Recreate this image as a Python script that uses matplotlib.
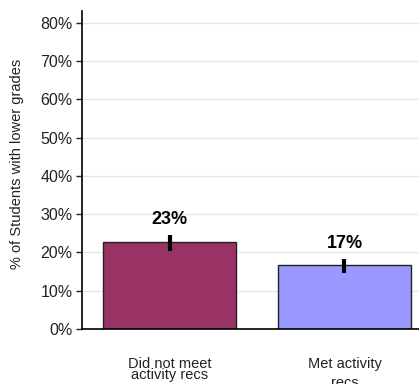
import matplotlib
matplotlib.use("Agg")
import matplotlib.pyplot as plt
import numpy as np

plt.rcParams['font.family'] = ['Liberation Sans', 'DejaVu Sans']

categories = ["Did not meet\nactivity recs", "Met activity\nrecs"]
values = [22.7, 16.7]
err_low = [20.4, 14.6]
err_high = [24.6, 18.3]
value_labels = ["23%", "17%"]
bar_colors = ["#993366", "#9999FF"]
yticks = [0, 10, 20, 30, 40, 50, 60, 70, 80]

fig = plt.figure(figsize=(4.19, 3.84), dpi=100)
ax = fig.add_axes([0.196, 0.143, 0.804, 0.828])

x = np.arange(len(categories))
ax.bar(x, values, width=0.76, color=bar_colors, edgecolor="#222222",
       linewidth=1.0, zorder=2)

yerr = [np.array(values) - np.array(err_low), np.array(err_high) - np.array(values)]
ax.errorbar(x, values, yerr=yerr, fmt="none", ecolor="black", elinewidth=3,
            capsize=0, zorder=3)

for xi, hi, lab in zip(x, err_high, value_labels):
    ax.text(xi, hi + 1.7, lab, ha="center", va="bottom", fontsize=13,
            fontweight="bold", color="black")

ax.set_ylim(0, 83)
ax.set_xlim(-0.5, 1.426)
ax.set_yticks(yticks)
ax.set_yticklabels([f"{t}%" for t in yticks], fontsize=11.5, color="#222222")
ax.yaxis.grid(True, color="#e6e6e6", linewidth=1.0, zorder=0)
ax.set_axisbelow(True)

ax.set_xticks(x)
ax.set_xticklabels(categories, fontsize=10.5, color="#222222")
ax.tick_params(axis="x", length=0, pad=20)
ax.tick_params(axis="y", length=4, width=1, color="#222222", pad=3)
spacing = [0.75, 1.45]
for t, s in zip(ax.get_xticklabels(), spacing):
    t.set_linespacing(s)

ax.set_ylabel("% of Students with lower grades", fontsize=10.5, color="#222222")
ax.yaxis.set_label_coords(-0.172, 0.52)

for side in ["top", "right"]:
    ax.spines[side].set_visible(False)
ax.spines["left"].set_linewidth(1.2)
ax.spines["bottom"].set_linewidth(1.2)

fig.savefig("out.png", dpi=100)
